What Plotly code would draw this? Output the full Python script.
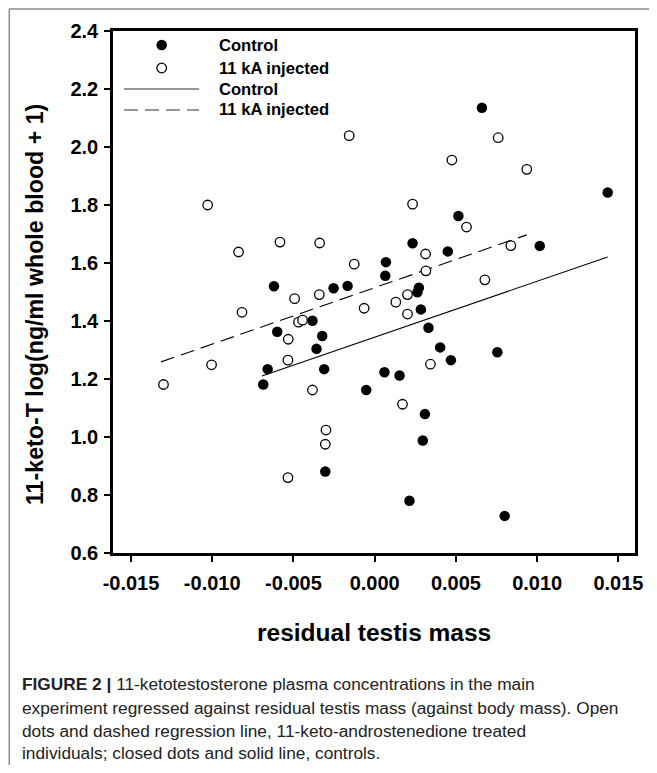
import plotly.graph_objects as go

# ---------------- data ----------------
control_x = [0.0066, 0.01434, 0.00515, 0.00233, 0.0045, 0.01016, 0.00069, 0.00065,
             -0.0062, -0.00253, -0.00167, 0.00272, 0.00263, 0.00284, -0.00383, 0.00331,
             -0.006, -0.00323, -0.00358, 0.00403, 0.00755, 0.00469, -0.00659, -0.00311,
             0.0006, 0.00153, -0.00686, -0.00052, 0.00309, 0.00296, -0.00304, 0.00214, 0.008]
control_y = [2.135, 1.843, 1.762, 1.668, 1.640, 1.659, 1.603, 1.556,
             1.520, 1.513, 1.521, 1.515, 1.499, 1.440, 1.401, 1.377,
             1.363, 1.348, 1.304, 1.309, 1.292, 1.265, 1.234, 1.234,
             1.223, 1.212, 1.181, 1.162, 1.079, 0.988, 0.881, 0.780, 0.728]

treated_x = [-0.00157, 0.0076, 0.00475, 0.00936, -0.01028, 0.00233, 0.00565, -0.00583,
             -0.00339, -0.00838, 0.00838, 0.00313, -0.00126, 0.00315, 0.00678, -0.00493,
             -0.00341, 0.00202, 0.0013, -0.00065, -0.00817, 0.00202, -0.00469, -0.00444,
             -0.00532, -0.00534, -0.01004, 0.00343, -0.013, -0.00383, 0.00171, -0.003,
             -0.00304, -0.00534]
treated_y = [2.039, 2.032, 1.955, 1.923, 1.800, 1.803, 1.724, 1.672,
             1.669, 1.638, 1.660, 1.631, 1.596, 1.573, 1.542, 1.477,
             1.491, 1.491, 1.465, 1.444, 1.430, 1.424, 1.396, 1.403,
             1.337, 1.265, 1.249, 1.251, 1.181, 1.162, 1.113, 1.024,
             0.975, 0.860]

control_fit_x = [-0.00694, 0.01434]
control_fit_y = [1.210, 1.621]
treated_fit_x = [-0.01315, 0.00936]
treated_fit_y = [1.259, 1.697]

x_tickvals = [-0.015, -0.010, -0.005, 0.0, 0.005, 0.010, 0.015]
x_ticktext = ["-0.015", "-0.010", "-0.005", "0.000", "0.005", "0.010", "0.015"]
y_tickvals = [0.6, 0.8, 1.0, 1.2, 1.4, 1.6, 1.8, 2.0, 2.2, 2.4]
y_ticktext = ["0.6", "0.8", "1.0", "1.2", "1.4", "1.6", "1.8", "2.0", "2.2", "2.4"]

legend_labels = ["Control", "11 kA injected", "Control", "11 kA injected"]

x_title = "residual testis mass"
y_title = "11-keto-T log(ng/ml whole blood + 1)"
caption_lines = [
    "<b>FIGURE 2 |</b> 11-ketotestosterone plasma concentrations in the main",
    "experiment regressed against residual testis mass (against body mass). Open",
    "dots and dashed regression line, 11-keto-androstenedione treated",
    "individuals; closed dots and solid line, controls.",
]

# ---------------- layout geometry ----------------
# page body adds an 8px offset; all positions below are window pixels
OFF = 8
WIN_W, WIN_H = 657, 773
W, H = WIN_W - OFF, WIN_H - 2 * OFF
L, R, T, B = 113, 635, 31, 553  # plot box in window pixels


def px(xp):
    return (xp - L) / (R - L)


def py(yp):
    return (B - yp) / (B - T)


BOLD = "Liberation Sans, Arial, sans-serif"
DASH = "14px,7px"

fig = go.Figure()

fig.add_trace(go.Scatter(x=treated_fit_x, y=treated_fit_y, mode="lines",
                         line=dict(color="black", width=1.1, dash=DASH),
                         showlegend=False, hoverinfo="skip"))
fig.add_trace(go.Scatter(x=control_fit_x, y=control_fit_y, mode="lines",
                         line=dict(color="black", width=1.1),
                         showlegend=False, hoverinfo="skip"))
fig.add_trace(go.Scatter(x=control_x, y=control_y, mode="markers",
                         marker=dict(size=10.5, color="black", line=dict(width=0)),
                         showlegend=False))
fig.add_trace(go.Scatter(x=treated_x, y=treated_y, mode="markers",
                         marker=dict(size=9.5, color="white",
                                     line=dict(color="black", width=1.3)),
                         showlegend=False))

shapes = []
annotations = []

# gray frame (top and left)
shapes.append(dict(type="line", xref="paper", yref="paper",
                   x0=px(9), x1=px(670), y0=py(8.9), y1=py(8.9),
                   line=dict(color="#8a8a8a", width=1.5)))
shapes.append(dict(type="line", xref="paper", yref="paper",
                   x0=px(9.3), x1=px(9.3), y0=py(8.9), y1=py(790),
                   line=dict(color="#8a8a8a", width=1.5)))

# custom legend
leg_rows = [45, 68, 89, 110]
r = 5.3
shapes.append(dict(type="circle", xref="paper", yref="paper",
                   x0=px(161.7 - r), x1=px(161.7 + r), y0=py(leg_rows[0] - r), y1=py(leg_rows[0] + r),
                   fillcolor="black", line=dict(color="black", width=0)))
shapes.append(dict(type="circle", xref="paper", yref="paper",
                   x0=px(161.7 - 4.8), x1=px(161.7 + 4.8), y0=py(leg_rows[1] - 4.8), y1=py(leg_rows[1] + 4.8),
                   fillcolor="white", line=dict(color="black", width=1.3)))
shapes.append(dict(type="line", xref="paper", yref="paper",
                   x0=px(124), x1=px(199), y0=py(leg_rows[2]), y1=py(leg_rows[2]),
                   line=dict(color="#333333", width=1.1)))
shapes.append(dict(type="line", xref="paper", yref="paper",
                   x0=px(124), x1=px(199), y0=py(leg_rows[3]), y1=py(leg_rows[3]),
                   line=dict(color="#333333", width=1.1, dash=DASH)))
for row, lab in zip(leg_rows, legend_labels):
    annotations.append(dict(xref="paper", yref="paper", x=px(217), y=py(row),
                            xanchor="left", yanchor="middle", showarrow=False,
                            text="<b>" + lab + "</b>",
                            font=dict(family=BOLD, size=16.6, color="black")))

# axis titles
annotations.append(dict(xref="paper", yref="paper", x=px(374), y=py(632),
                        xanchor="center", yanchor="middle", showarrow=False,
                        text="<b>" + x_title + "</b>",
                        font=dict(family=BOLD, size=24.5, color="black")))
annotations.append(dict(xref="paper", yref="paper", x=px(35), y=py(305),
                        xanchor="center", yanchor="middle", showarrow=False,
                        textangle=-90,
                        text="<b>" + y_title + "</b>",
                        font=dict(family=BOLD, size=23.2, color="black")))

# caption
cap_rows = [684, 708, 731, 753]
for row, line in zip(cap_rows, caption_lines):
    annotations.append(dict(xref="paper", yref="paper", x=px(20), y=py(row),
                            xanchor="left", yanchor="middle", showarrow=False,
                            text=line,
                            font=dict(family=BOLD, size=17.3, color="#222222")))

fig.update_layout(
    width=W, height=H,
    margin=dict(l=L - OFF, r=W - (R - OFF), t=T - OFF, b=H - (B - OFF), pad=0),
    paper_bgcolor="white", plot_bgcolor="white",
    showlegend=False,
    shapes=shapes, annotations=annotations,
)
fig.update_xaxes(range=[-0.016107, 0.016021], tickmode="array",
                 tickvals=x_tickvals, ticktext=x_ticktext,
                 ticks="outside", ticklen=6, tickwidth=2, tickcolor="black",
                 ticklabelstandoff=4, automargin=False,
                 showline=True, linewidth=2.5, linecolor="black", mirror=True,
                 showgrid=False, zeroline=False,
                 tickfont=dict(family=BOLD, size=20, color="black", weight="bold"))
fig.update_yaxes(range=[0.6, 2.4], tickmode="array",
                 tickvals=y_tickvals, ticktext=y_ticktext,
                 ticks="outside", ticklen=6, tickwidth=2, tickcolor="black",
                 ticklabelstandoff=2, automargin=False,
                 showline=True, linewidth=2.5, linecolor="black", mirror=True,
                 showgrid=False, zeroline=False,
                 tickfont=dict(family=BOLD, size=20, color="black", weight="bold"))

fig.write_html("out.html")
